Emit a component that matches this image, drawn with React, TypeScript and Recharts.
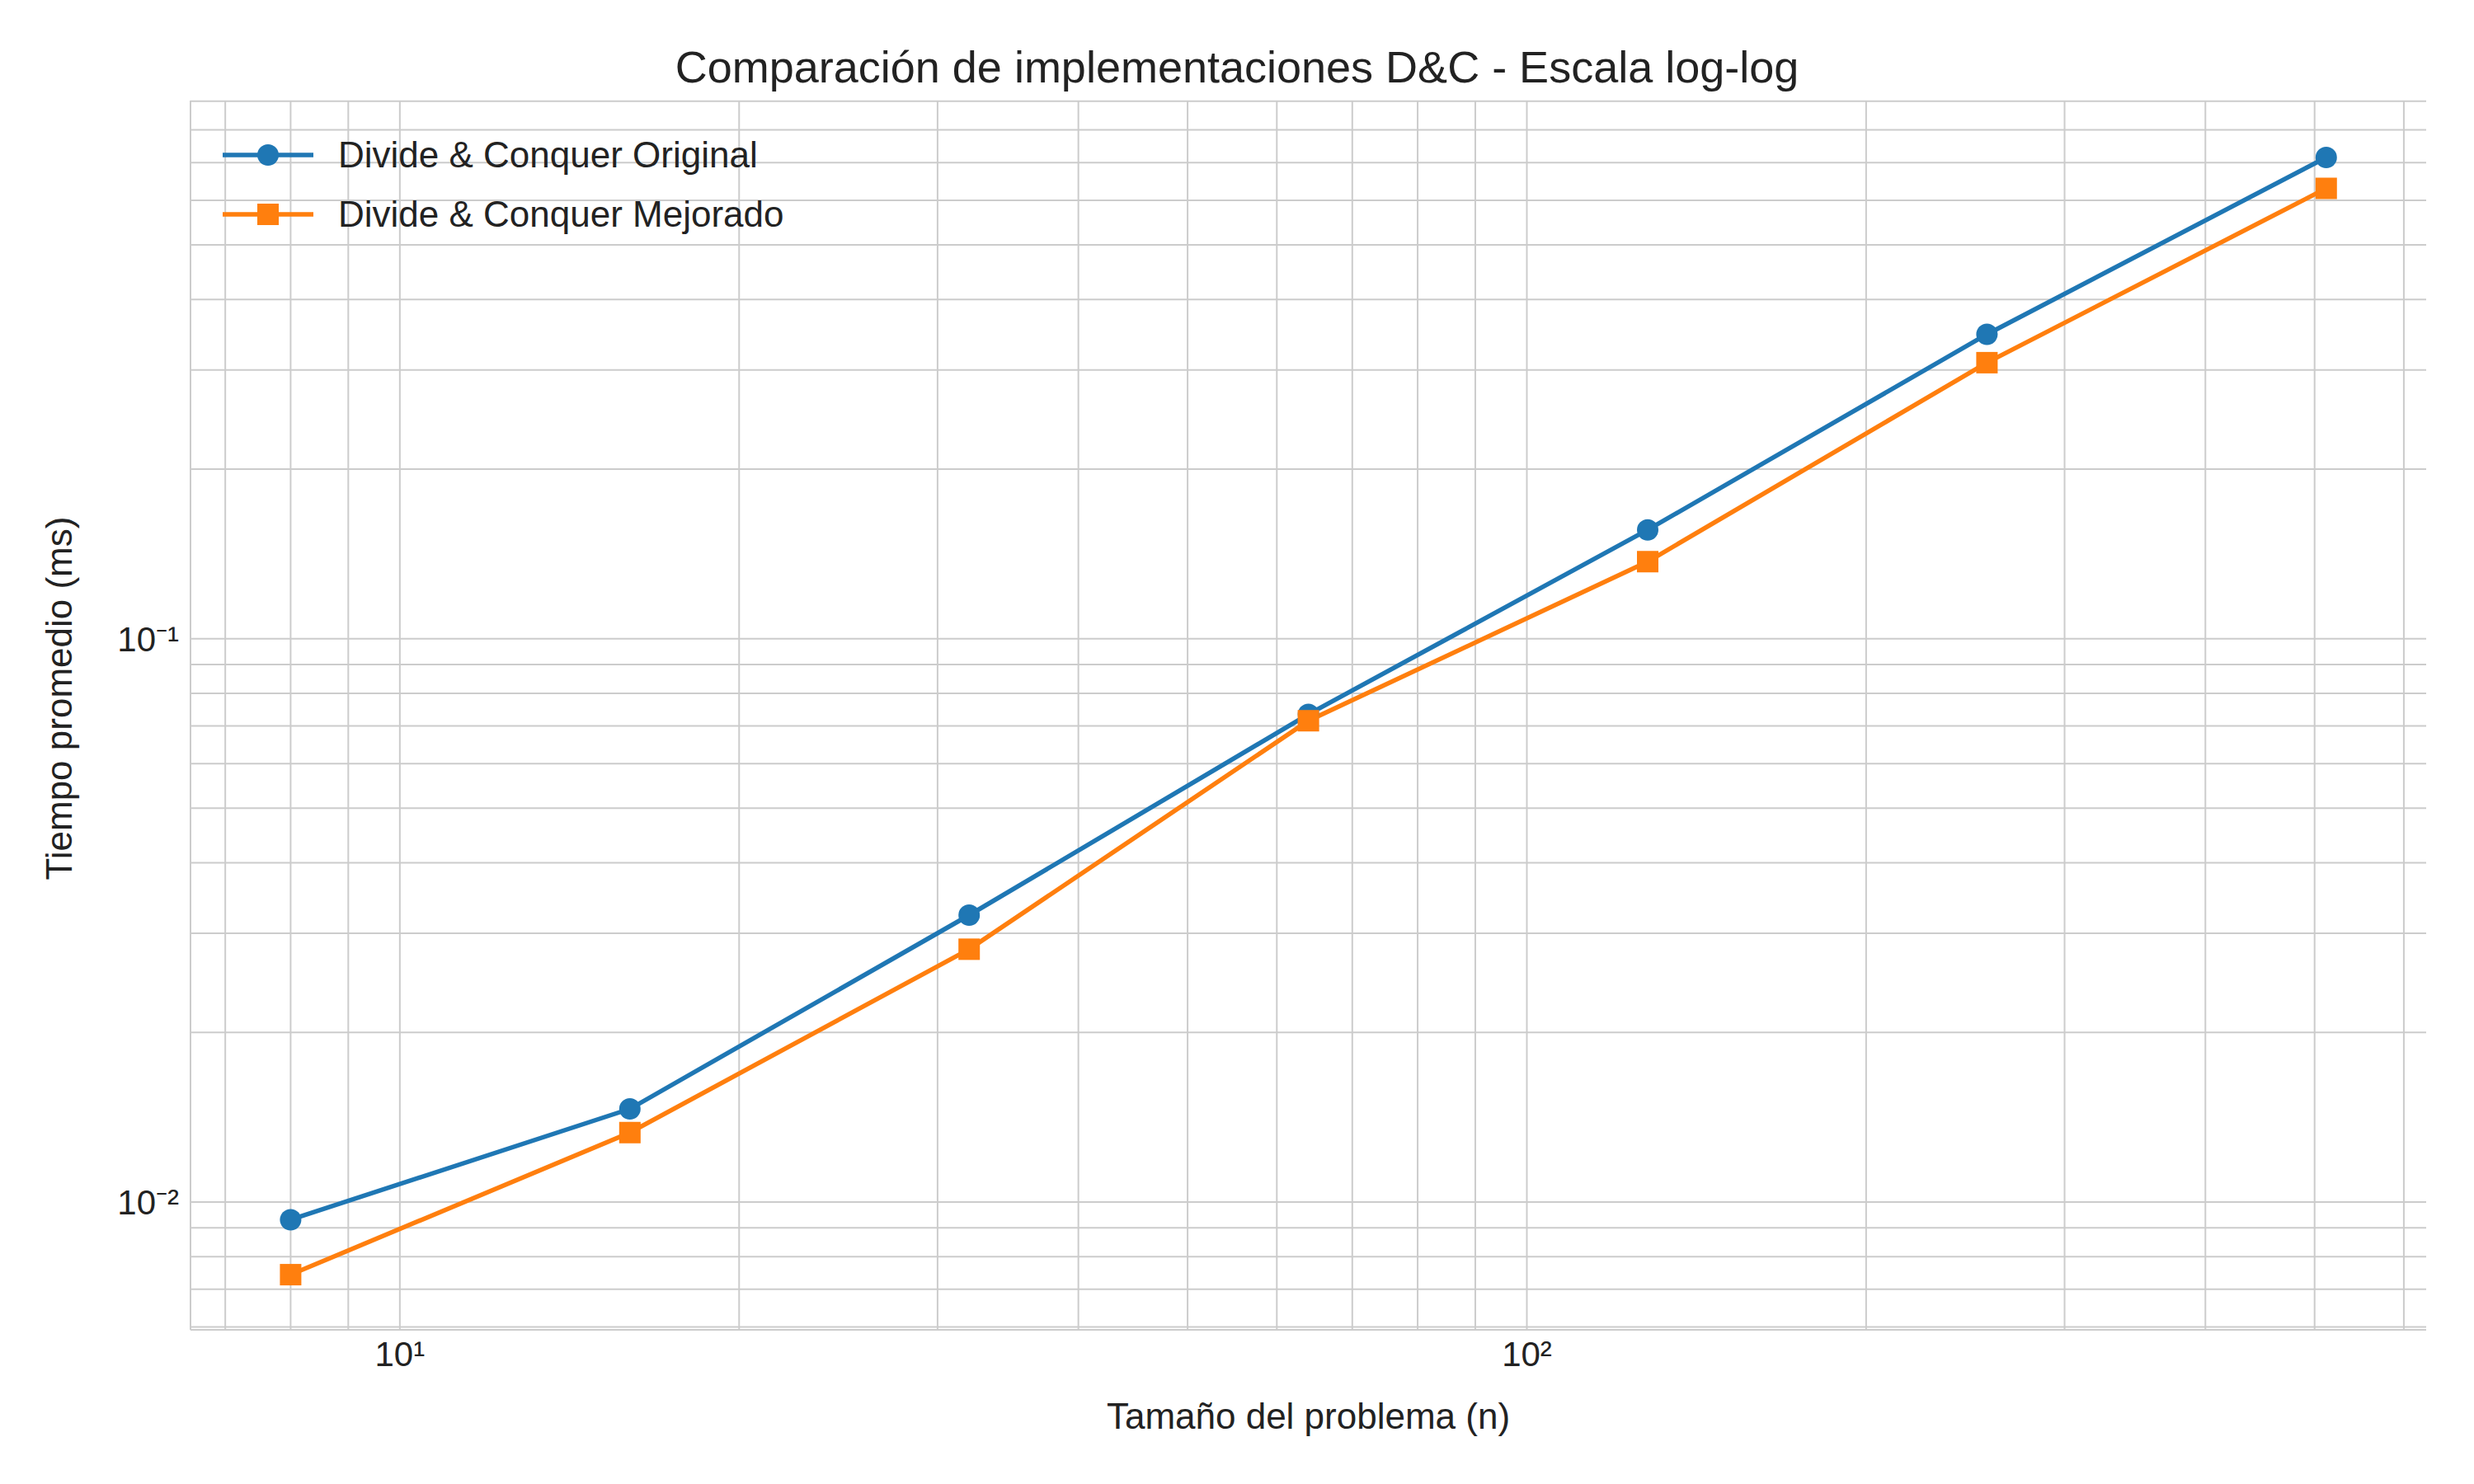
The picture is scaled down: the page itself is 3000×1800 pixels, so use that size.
import { LineChart, Line, XAxis, YAxis, CartesianGrid } from 'recharts';

const sizes = [8, 16, 32, 64, 128, 256, 512];
const original = [0.0093, 0.01463, 0.0323, 0.0734, 0.156, 0.347, 0.715];
const mejorado = [0.00743, 0.01328, 0.0281, 0.0715, 0.137, 0.309, 0.63];
const xTicks = [7, 8, 9, 10, 20, 30, 40, 50, 60, 70, 80, 90, 100, 200, 300, 400, 500, 600];
const yTicks = [0.006, 0.007, 0.008, 0.009, 0.01, 0.02, 0.03, 0.04, 0.05, 0.06, 0.07, 0.08, 0.09, 0.1, 0.2, 0.3, 0.4, 0.5, 0.6, 0.7, 0.8, 0.9];
const xLabels: { [k: number]: string } = { 10: '10¹', 100: '10²' };
const yLabels: { [k: number]: string } = { 0.01: '10⁻²', 0.1: '10⁻¹' };

const data = sizes.map((n, i) => ({ n, original: original[i], mejorado: mejorado[i] }));

const BLUE = '#1f77b4';
const ORANGE = '#ff7f0e';
const FONT = 'Liberation Sans, Arial, sans-serif';

function Square(props: any) {
  const { cx, cy } = props;
  if (cx == null || cy == null) return null;
  return <rect x={cx - 13} y={cy - 13} width={26} height={26} fill={ORANGE} />;
}

function LegendBox() {
  const items = [
    { name: 'Divide & Conquer Original', color: BLUE, sq: false },
    { name: 'Divide & Conquer Mejorado', color: ORANGE, sq: true },
  ];
  return (
    <div style={{ position: 'absolute', left: 270, top: 152, fontFamily: FONT, fontSize: 44, color: '#222' }}>
      {items.map(it => (
        <div key={it.name} style={{ display: 'flex', alignItems: 'center', height: 72 }}>
          <svg width={110} height={40} style={{ marginRight: 30 }}>
            <line x1={0} y1={20} x2={110} y2={20} stroke={it.color} strokeWidth={5.5} />
            {it.sq ? <rect x={42} y={7} width={26} height={26} fill={it.color} /> : <circle cx={55} cy={20} r={13} fill={it.color} />}
          </svg>
          {it.name}
        </div>
      ))}
    </div>
  );
}

export default function App() {
  return (
    <div style={{ margin: -8, width: 3000, height: 1800, background: '#fff', position: 'relative', fontFamily: FONT }}>
      <div style={{ position: 'absolute', top: 50, width: '100%', textAlign: 'center', fontSize: 54, color: '#222' }}>
        Comparación de implementaciones D&amp;C - Escala log-log
      </div>
      <LineChart width={3000} height={1800} data={data} margin={{ top: 122, right: 58, left: 101, bottom: 107 }}>
        <CartesianGrid stroke="#cccccc" strokeWidth={2} horizontalValues={yTicks} verticalValues={xTicks} />
        <XAxis dataKey="n" type="number" scale="log" domain={[6.52, 628]} allowDataOverflow ticks={xTicks} interval={0}
          tickFormatter={(v: number) => xLabels[v] || ''} height={80} stroke="#cccccc" strokeWidth={2} tickLine={false}
          tick={{ fill: '#222', fontSize: 42, fontFamily: FONT }} tickMargin={8}
          label={{ value: 'Tamaño del problema (n)', position: 'insideBottom', offset: -40, fill: '#222', fontSize: 44, fontFamily: FONT }} />
        <XAxis xAxisId="top" orientation="top" dataKey="n" type="number" scale="log" domain={[6.52, 628]} height={0} tick={false} tickLine={false} stroke="#cccccc" strokeWidth={2} />
        <YAxis type="number" scale="log" domain={[0.00593, 0.902]} allowDataOverflow ticks={yTicks} interval={0}
          tickFormatter={(v: number) => yLabels[v] || ''} width={130} stroke="#cccccc" strokeWidth={2} tickLine={false}
          tick={{ fill: '#222', fontSize: 42, fontFamily: FONT }} tickMargin={8}
          label={{ value: 'Tiempo promedio (ms)', angle: -90, position: 'insideLeft', offset: -30, dy: 200, fill: '#222', fontSize: 44, fontFamily: FONT }} />
        <YAxis yAxisId="right" orientation="right" type="number" scale="log" domain={[0.00593, 0.902]} width={0} tick={false} tickLine={false} stroke="#cccccc" strokeWidth={2} />
        <Line dataKey="original" stroke={BLUE} strokeWidth={5.5} dot={{ r: 13, fill: BLUE, stroke: BLUE, strokeWidth: 0 }} isAnimationActive={false} />
        <Line dataKey="mejorado" stroke={ORANGE} strokeWidth={5.5} dot={<Square />} isAnimationActive={false} />
      </LineChart>
      <LegendBox />
    </div>
  );
}
